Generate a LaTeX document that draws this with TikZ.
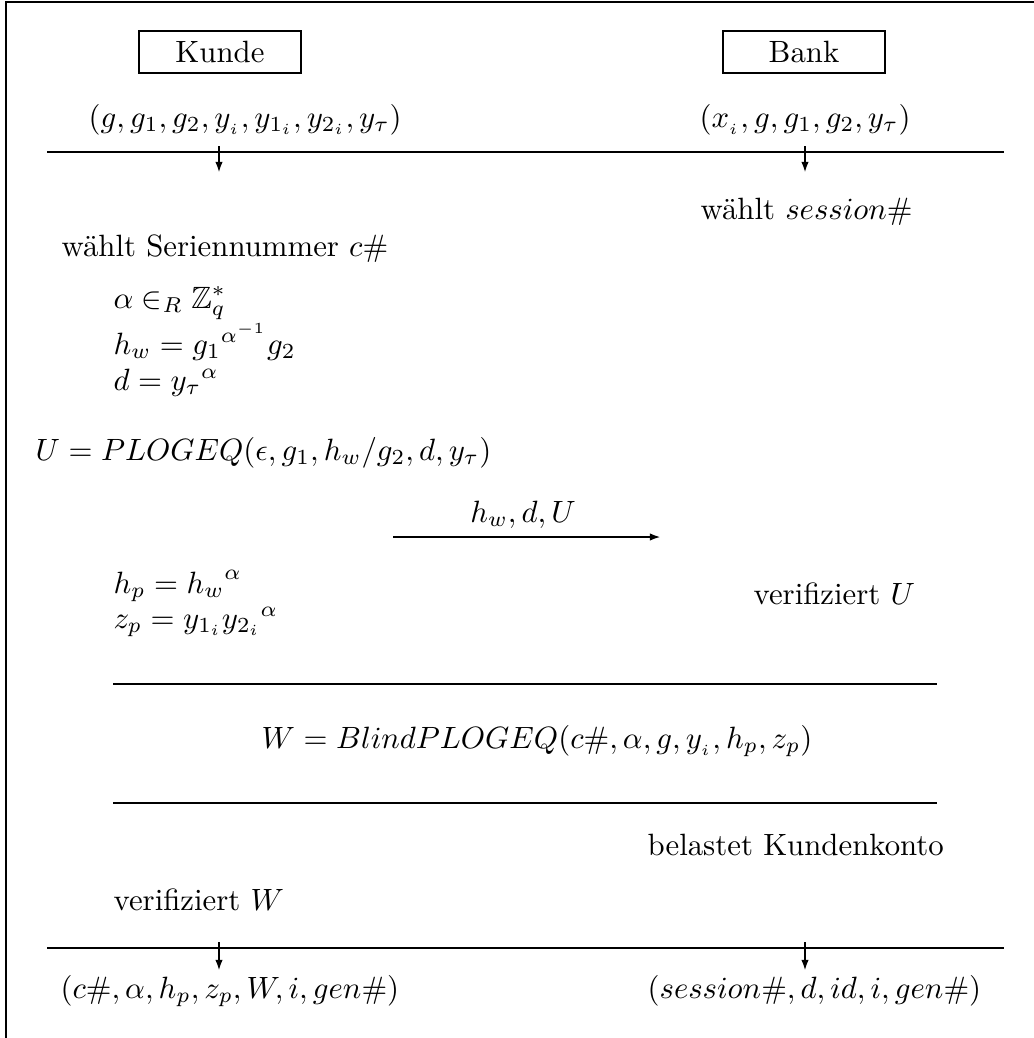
\documentclass[tikz,border=0pt]{standalone}
\usepackage{amssymb}
\usetikzlibrary{arrows.meta}
\begin{document}
\begin{tikzpicture}[x=0.3247pt,y=-0.3247pt,
  rule/.style={line width=0.9pt},
  flow/.style={line width=0.9pt,-{Latex[length=3.6pt,width=2.4pt]}},
  party/.style={draw,line width=0.9pt,minimum width=52.6pt,minimum height=13.6pt,inner sep=0pt},
  txt/.style={inner sep=0pt,anchor=base west},
  ctxt/.style={inner sep=0pt,anchor=base}]
\useasboundingbox (0,0) rectangle (1034,1038);
% frame
\coordinate (fl) at (6,1038);
\coordinate (fc) at (6,2);
\coordinate (fr) at (1034,2);
\draw[rule] (fl) -- (fc) -- (fr);
% parties
\node[party] (kunde) at (220,52) {Kunde};
\node[party] (bank) at (804,52) {Bank};
\node[txt] (kt) at (88,127) {$(g,g_1,g_2,y_{_i},y_{1_i},y_{2_i},y_\tau)$};
\node[txt] (bt) at (699,127) {$(x_{_i},g,g_1,g_2,y_\tau)$};
% first rule with arrows
\coordinate (l1a) at (47,152);
\coordinate (l1b) at (1004,152);
\draw[rule] (l1a) -- (l1b);
\coordinate (a1s) at (219,146);
\coordinate (a1e) at (219,173);
\coordinate (a2s) at (805,146);
\coordinate (a2e) at (805,173);
\draw[flow] (a1s) -- (a1e);
\draw[flow] (a2s) -- (a2e);
\node[txt] (ws) at (700,219) {w\"ahlt $session\#$};
\node[txt] (wc) at (61,256) {w\"ahlt Seriennummer $c\#$};
\node[txt] (alpha) at (113,308) {$\alpha\in_R\mathbb{Z}_q^*$};
\node[txt] (hw) at (113,354) {$h_w={g_1}^{\alpha^{-1}}g_2$};
\node[txt] (dd) at (113,390) {$d={y_\tau}^{\alpha}$};
\node[txt] (uu) at (35,460) {$U=PLOGEQ(\epsilon,g_1,h_w/g_2,d,y_\tau)$};
% message
\coordinate (ms) at (393,537);
\coordinate (me) at (661,537);
\draw[flow] (ms) -- (me);
\node[ctxt] (ml) at (523,522) {$h_w,d,U$};
\node[txt] (vu) at (753,604) {verifiziert $U$};
\node[txt] (hp) at (113,593) {$h_p={h_w}^{\alpha}$};
\node[txt] (zp) at (113,628) {$z_p=y_{1_i}{y_{2_i}}^{\alpha}$};
% blind protocol
\coordinate (l2a) at (113,684);
\coordinate (l2b) at (937,684);
\draw[rule] (l2a) -- (l2b);
\node[ctxt] (ww) at (537,748) {$W=BlindPLOGEQ(c\#,\alpha,g,y_{_i},h_p,z_p)$};
\coordinate (l3a) at (113,803);
\coordinate (l3b) at (937,803);
\draw[rule] (l3a) -- (l3b);
\node[txt] (bk) at (647,855) {belastet Kundenkonto};
\node[txt] (vw) at (113,910) {verifiziert $W$};
% final rule
\coordinate (l4a) at (47,948);
\coordinate (l4b) at (1004,948);
\draw[rule] (l4a) -- (l4b);
\coordinate (a3s) at (219,942);
\coordinate (a3e) at (219,971);
\coordinate (a4s) at (805,942);
\coordinate (a4e) at (805,971);
\draw[flow] (a3s) -- (a3e);
\draw[flow] (a4s) -- (a4e);
\node[txt] (kr) at (60,998) {$(c\#,\alpha,h_p,z_p,W,i,gen\#)$};
\node[txt] (br) at (647,998) {$(session\#,d,id,i,gen\#)$};
\end{tikzpicture}
\end{document}
